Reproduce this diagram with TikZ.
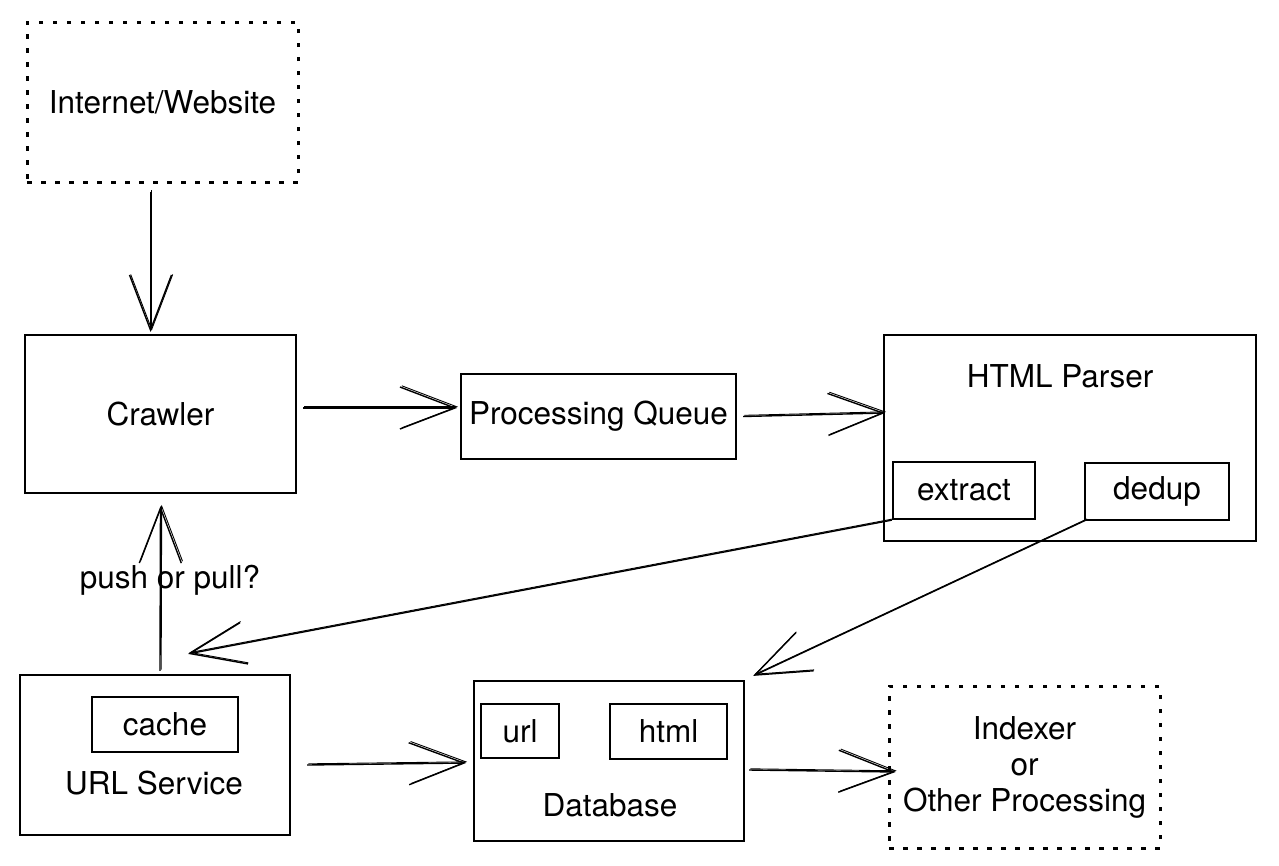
\documentclass[tikz,border=0pt]{standalone}
\usepackage{fontspec}
\setmainfont{TeX Gyre Heros}
\usepackage{tikz}
\usetikzlibrary{positioning,calc,arrows.meta}
\tikzset{
  figfont/.style={font=\fontsize{31.5}{37}\selectfont},
  figbox/.style={draw, line width=2.2pt, inner sep=0pt, align=center},
  figdotbox/.style={figbox, line width=3pt, dash pattern=on 4.5pt off 9.5pt},
  figtext/.style={inner sep=0pt, align=center},
  figarrow/.style={-{Straight Barb[length=55pt, width=42pt]}, line width=1.4pt,
    postaction={draw, line width=0.9pt, transform canvas={shift={(1.2pt,1.2pt)}}}},
}

\begin{document}
\begin{tikzpicture}[figfont, x=1pt, y=-1pt]
  \useasboundingbox (0,0) rectangle (1279,865);

  % Top row
  \node[figdotbox, minimum width=271pt, minimum height=160pt] (INT) at (162.5,102)
    {Internet/Website};
  \node[figbox, minimum width=271pt, minimum height=158pt] (CR) at (160.5,414)
    {Crawler};
  \node[figbox, minimum width=275pt, minimum height=85pt] (PQ) at (598.5,416.5)
    {Processing Queue};

  % HTML Parser with its parts
  \node[figbox, minimum width=372pt, minimum height=206pt] (HP) at (1070,438) {};
  \node[figtext] (HPt) at (1060,376) {HTML Parser};
  \node[figbox, minimum width=142pt, minimum height=57pt] (EX) at (964,490.5) {extract};
  \node[figbox, minimum width=144pt, minimum height=57pt] (DD) at (1157,491.5) {dedup};

  % URL Service
  \node[figbox, minimum width=270pt, minimum height=160pt] (US) at (155,755) {};
  \node[figbox, minimum width=146pt, minimum height=55pt] (CA) at (165,724.5) {cache};
  \node[figtext] (USt) at (154,783) {URL Service};

  % Database
  \node[figbox, minimum width=270pt, minimum height=160pt] (DB) at (609,761) {};
  \node[figbox, minimum width=78pt, minimum height=54pt] (UR) at (520,731) {url};
  \node[figbox, minimum width=117pt, minimum height=55pt] (HT) at (668.5,731.5) {html};
  \node[figtext] (DBt) at (610,805) {Database};

  % Indexer
  \node[figdotbox, minimum width=271pt, minimum height=162pt] (IX) at (1024.5,767)
    {Indexer\\[-1pt]or\\[-1pt]Other Processing};

  % label
  \node[figtext] (PP) at (170,580) {push or pull?};

  % arrows
  \draw[figarrow] ($(INT.south)+(-12,8)$) -- ($(CR.north)+(-10,-2)$);
  \draw[figarrow] ($(CR.east)+(6,-6)$) -- ($(PQ.west)+(-3,-8.5)$);
  \draw[figarrow] ($(PQ.east)+(6,0)$) -- ($(HP.west)+(2,-25)$);
  \draw[figarrow] ($(US.north)+(5,-3)$) -- ($(CR.south)+(0,12)$);
  \draw[figarrow] (EX.south west) -- ($(US.north)+(33,-20)$);
  \draw[figarrow] ($(DD.south west)+(2,-1)$) -- ($(DB.north east)+(8,-4)$);
  \draw[figarrow] ($(US.east)+(16,10)$) -- ($(DB.west)+(-7,2)$);
  \draw[figarrow] ($(DB.east)+(4,9)$) -- ($(IX.west)+(8,5)$);
\end{tikzpicture}
\end{document}
